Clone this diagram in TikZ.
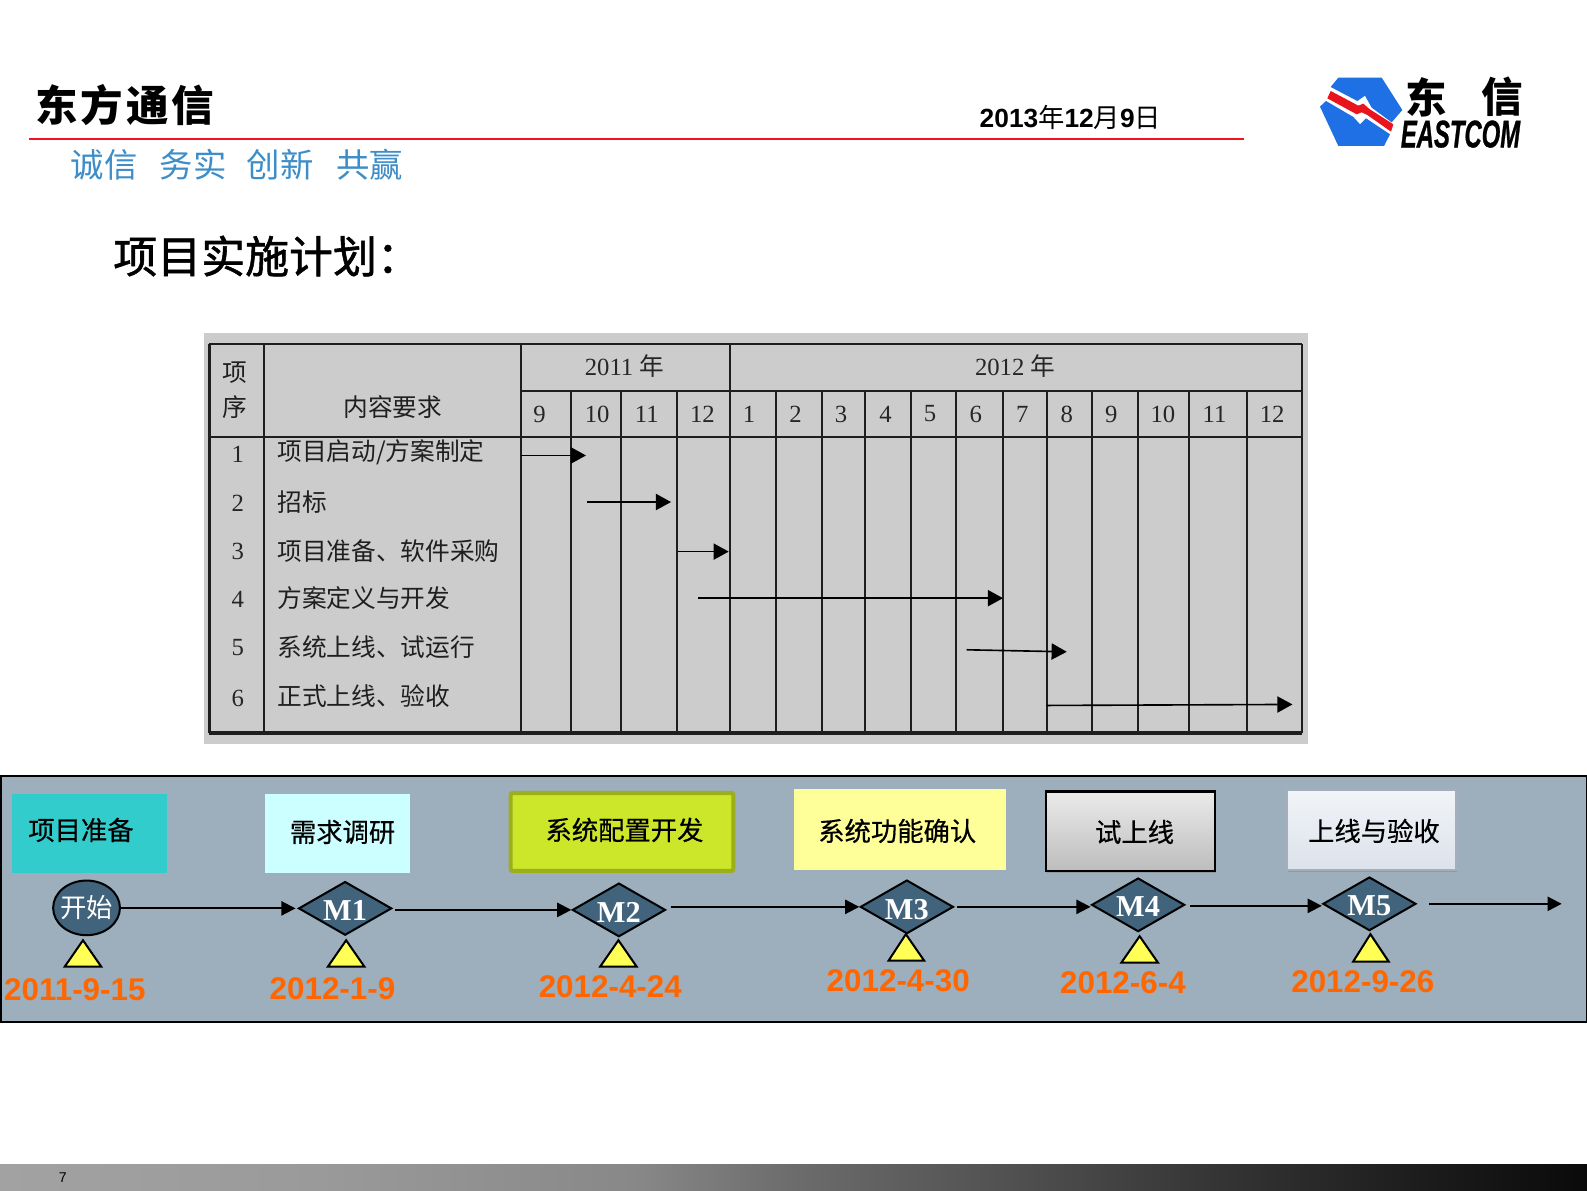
\documentclass[tikz,border=0pt]{standalone}
\usepackage{fontspec}
\usepackage{graphicx}
\usetikzlibrary{shapes.geometric,arrows.meta,shadows,calc}
\setmainfont{Liberation Sans}
\newfontfamily\cjk{Noto Sans CJK SC}
\newfontfamily\cjkwide[LetterSpace=7]{Noto Sans CJK SC}
\newfontfamily\cjkfat[FakeBold=1.3]{Noto Sans CJK SC}
\newfontfamily\cjkmid[FakeBold=.5]{Noto Sans CJK SC}
\newfontfamily\serifb{Liberation Serif}
\newfontfamily\logofont[FakeBold=1]{Liberation Sans}
\newcommand\fz[1]{\fontsize{#1}{#1}\selectfont}
\definecolor{bandc}{HTML}{9DAFBC}
\definecolor{datec}{HTML}{FF6600}
\definecolor{navy}{HTML}{41637C}
\definecolor{tri}{HTML}{FFFF55}
\definecolor{gridc}{HTML}{1E1E1E}
\definecolor{redline}{RGB}{240,20,35}
\definecolor{motto}{RGB}{60,141,200}
\definecolor{logoblue}{RGB}{30,112,228}
\definecolor{logored}{RGB}{232,20,30}
\definecolor{boxa}{RGB}{51,204,204}
\definecolor{boxb}{RGB}{204,255,255}
\definecolor{boxc}{RGB}{204,230,42}
\definecolor{boxcb}{RGB}{156,174,26}
\definecolor{boxd}{RGB}{255,255,153}
\definecolor{boxfb}{RGB}{165,175,188}
\definecolor{boxft}{RGB}{241,244,248}
\definecolor{boxfl}{RGB}{220,226,235}
\definecolor{sgA}{HTML}{A2A2A2}\definecolor{sgB}{HTML}{9A9A9A}\definecolor{sgC}{HTML}{888888}
\definecolor{sgD}{HTML}{6C6C6C}\definecolor{sgE}{HTML}{505050}\definecolor{sgF}{HTML}{363636}
\definecolor{sgG}{HTML}{1F1F1F}\definecolor{sgH}{HTML}{0A0A0A}
\pgfdeclarehorizontalshading{barshade}{100bp}{color(0bp)=(sgA); color(25bp)=(sgA); color(35bp)=(sgB); color(45bp)=(sgC); color(50bp)=(sgD); color(57bp)=(sgE); color(63bp)=(sgF); color(69bp)=(sgG); color(75bp)=(sgH); color(100bp)=(sgH)}
\tikzset{
 txt/.style={inner sep=0pt,outer sep=0pt},
 tcell/.style={txt,text=black!88,font=\cjk\fz{12.2}},
 tnum/.style={txt,text=black!85,font=\serifb\fz{12.2}},
 gridline/.style={draw=gridc,line width=1pt},
 garrow/.style={draw=black,line width=.8pt,-{Triangle[length=7.5pt,width=8pt]}},
 conn/.style={draw=black,line width=1pt,-{Triangle[length=7pt,width=7pt]}},
 mile/.style={shape=diamond,draw=black,line width=1pt,fill=navy,inner sep=0pt,aspect=1.75,minimum width=46pt,minimum height=26.5pt,text=white,text height=12pt,text depth=0pt,font=\serifb\bfseries\fz{15}},
 stage/.style={txt,font=\cjkmid\fz{13},text=black},
 datel/.style={txt,text=datec,font=\bfseries\fz{15.5}},
 flag/.style={draw=black,line width=1pt,fill=tri,line join=miter},
 bx/.style={inner sep=0pt,outer sep=0pt},
}
\begin{document}
\begin{tikzpicture}[x=.5pt,y=-.5pt]
\useasboundingbox (0,0) rectangle (1568,1175.75);
\fill[white] (0,0) rectangle (1568,1175.75);
% header
\node[txt,anchor=west,font=\cjkwide\bfseries\fz{21}] (title) at (35,104) {东方通信};
\draw[draw=redline,line width=1.25pt] (29,137.5) -- (1229,137.5);
\node[txt,anchor=west,text=motto,font=\cjk\fz{16.5}] (mottot) at (70,163) {诚信\hspace{11pt}务实\hspace{10pt}创新\hspace{11pt}共赢};
\node[txt,anchor=west,font=\bfseries\fz{13}] (date) at (968,116) {2013{\cjk\mdseries 年}12{\cjk\mdseries 月}9{\cjk\mdseries 日}};
\node[txt,anchor=west,font=\cjkfat\fz{21.7}] (head) at (112,253) {项目实施计划：};
% logo
\begin{scope}[shift={(1294.3,64.2)},x=.1647pt,y=-.1647pt]
\fill[logoblue] (85,38) -- (215,38) -- (277,135) -- (245,172) -- (185,128) -- (165,92) -- (142,108) -- (62,66) -- cycle;
\fill[logoblue] (30,125) -- (48,108) -- (130,156) -- (150,178) -- (168,160) -- (240,208) -- (222,243) -- (85,243) -- cycle;
\fill[logored] (62,78) -- (145,122) -- (160,116) -- (178,132) -- (250,178) -- (243,200) -- (172,150) -- (155,142) -- (140,148) -- (52,100) -- cycle;
\end{scope}
\node[txt,font=\cjk\bfseries\fz{20.5}] (logoa) at (1409,96) {东};
\node[txt,font=\cjk\bfseries\fz{20.5}] (logob) at (1484,96) {信};
\node[txt,font=\logofont\bfseries\itshape\fz{19}] (logoc) at (1443,132.5) {\scalebox{.62}[1]{EASTCOM}};
% gantt
\fill[black!20] (202,329) rectangle (1292,735);
\foreach \x in {207,261,515,721,1286} \draw[gridline] (\x,340) -- (\x,724);
\foreach \x in {564,614,669,767,812,855,900,945,991,1034,1079,1124,1175,1232} \draw[gridline] (\x,386) -- (\x,724);
\draw[gridline] (206.5,340) -- (1286.5,340);
\draw[gridline] (515,386) -- (1286.5,386);
\draw[gridline] (206.5,432) -- (1286.5,432);
\draw[gridc,line width=1.8pt] (206.5,724) -- (1286.5,724);
\node[tcell] (hxm) at (232,368) {项};
\node[tcell] (hxu) at (232,402) {序};
\node[tcell] (hcon) at (388,402) {内容要求};
\node[tnum] (y2011) at (617,362) {2011 {\cjk 年}};
\node[tnum] (y2012) at (1003,362) {2012 {\cjk 年}};
\foreach \x/\m/\n in {533/9/a,590/10/b,639/11/c,694/12/d,740/1/e,786/2/f,831/3/g,875/4/h,919/5/i,964/6/j,1010/7/k,1054/8/l,1098/9/m,1149/10/n,1200/11/o,1257/12/p}
  \node[tnum] (mon\n) at (\x,409) {\m};
\foreach \i/\y/\yy/\t in {1/449/447/{项目启动/方案制定},2/497/496/招标,3/545/544/项目准备、软件采购,4/592/591/方案定义与开发,5/640/639/系统上线、试运行,6/690/688/正式上线、验收}{
  \node[tnum] (no\i) at (235,\y) {\i};
  \node[tcell,anchor=west] (task\i) at (274,\yy) {\t};
}
\coordinate (aS1) at (515,450); \coordinate (aE1) at (579,450);
\coordinate (aS2) at (580,496); \coordinate (aE2) at (663,496);
\coordinate (aS3) at (670,545); \coordinate (aE3) at (720,545);
\coordinate (aS4) at (690,591); \coordinate (aE4) at (991,591);
\coordinate (aS5) at (955,642); \coordinate (aE5) at (1054,644);
\coordinate (aS6) at (1034,697); \coordinate (aE6) at (1277,696);
\foreach \i in {1,...,6} \draw[garrow] (aS\i) -- (aE\i);
% timeline band
\draw[fill=bandc,draw=black,line width=1pt] (.5,766.5) rectangle (1567.5,1009.5);
\node[bx,fill=boxa,minimum width=76.5pt,minimum height=39.5pt] (b1) at (88.5,823.5) {};
\node[bx,fill=boxb,minimum width=71.5pt,minimum height=39.5pt] (b2) at (333.5,823.5) {};
\node[bx,draw=boxcb,line width=2pt,fill=boxc,rounded corners=1pt,minimum width=110pt,minimum height=38.5pt] (b3) at (614.5,822) {};
\node[bx,fill=boxd,minimum width=105pt,minimum height=40pt] (b4) at (889,820) {};
\node[bx,draw=black,line width=1pt,top color=black!8,bottom color=black!26,drop shadow={shadow xshift=.6pt,shadow yshift=-1pt,opacity=.45},minimum width=83.5pt,minimum height=39.5pt] (b5) at (1116.5,821.5) {};
\node[bx,draw=boxfb,line width=1pt,top color=boxft,bottom color=boxfl,drop shadow={shadow xshift=.6pt,shadow yshift=-1pt,opacity=.45},minimum width=83.5pt,minimum height=39.5pt] (b6) at (1355,820.5) {};
\node[stage] (s1) at (80,820) {项目准备};
\node[stage] (s2) at (338.5,822) {需求调研};
\node[stage] (s3) at (617,820) {系统配置开发};
\node[stage] (s4) at (886.5,821) {系统功能确认};
\node[stage] (s5) at (1121,822) {试上线};
\node[stage] (s6) at (1357.5,821) {上线与验收};
% milestones
\node[shape=ellipse,draw=black,line width=1pt,fill=navy,inner sep=0pt,inner xsep=-5pt,minimum width=33pt,minimum height=27pt,text=white,font=\cjk\fz{13}] (start) at (85.5,897) {开始};
\node[mile] (m1) at (341,897.5) {M1};
\node[mile] (m2) at (611.5,899) {M2};
\node[mile] (m3) at (896,896) {M3};
\node[mile] (m4) at (1124.5,894) {M4};
\node[mile] (m5) at (1353,893) {M5};
\coordinate (tail) at (1543,893);
\draw[conn,shorten >=1pt] (start.east |- m1.west) -- (m1.west);
\draw[conn,shorten <=1pt] (m1.east |- m2.west) -- (m2.west);
\draw[conn,shorten <=2pt] (m2.east |- m3.west) -- (m3.west);
\draw[conn,shorten <=1.5pt] (m3.east) -- (m3.east -| m4.west);
\draw[conn,shorten <=2pt] (m4.east |- 0,895) -- (m5.west |- 0,895);
\draw[conn,shorten <=6pt] (m5.east) -- (tail);
% flags
\foreach \a/\b/\h/\l/\r in {82/929/955/64/100,342/929/955/324/360,611/929/955/593/629,895/923/949/878/913,1126/925/951/1108/1144,1354/923/950/1337/1372}
  \draw[flag] (\a,\b) -- (\r,\h) -- (\l,\h) -- cycle;
\node[datel] (d0) at (74,978) {2011-9-15};
\node[datel] (d1) at (328.5,977) {2012-1-9};
\node[datel] (d2) at (603,975) {2012-4-24};
\node[datel] (d3) at (887.5,969) {2012-4-30};
\node[datel] (d4) at (1109.5,971) {2012-6-4};
\node[datel] (d5) at (1346.5,970) {2012-9-26};
% footer
\path[shading=barshade] (0,1151) rectangle (1568,1175.75);
\node[txt,font=\fz{7},text=black] (pg) at (62,1164) {7};
\end{tikzpicture}
\end{document}
